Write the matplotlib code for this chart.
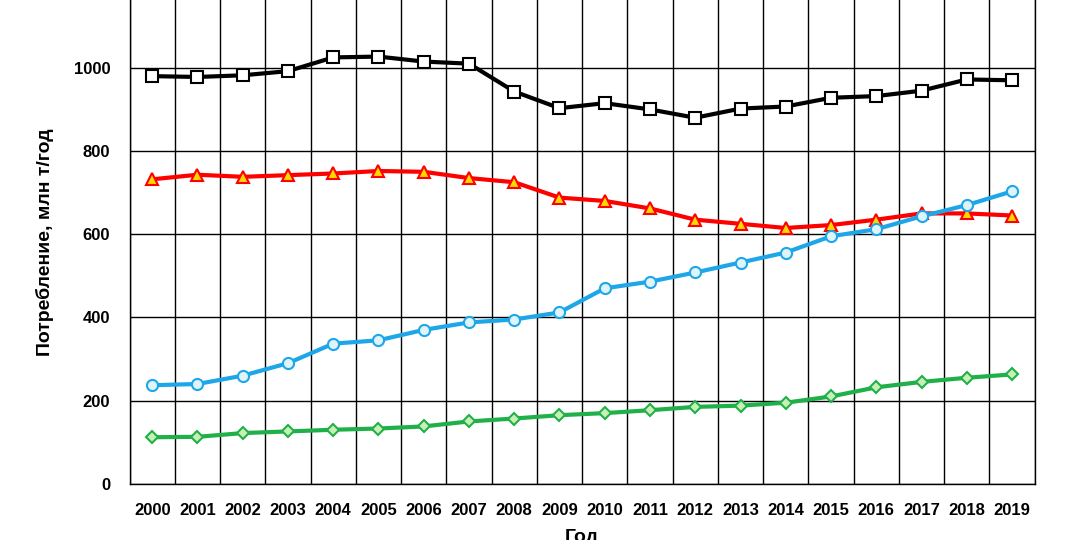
import matplotlib.pyplot as plt

plt.rcParams['font.family'] = ['Liberation Sans', 'DejaVu Sans']

# Data
years = list(range(2000, 2020))
black = [980, 978, 982, 992, 1025, 1027, 1015, 1010, 943, 903, 915, 900, 880, 902, 907, 928, 932, 945, 972, 970]
red = [732, 743, 738, 742, 746, 752, 750, 735, 725, 688, 680, 662, 635, 625, 615, 622, 635, 650, 650, 645]
blue = [237, 240, 260, 290, 337, 345, 370, 388, 395, 412, 470, 486, 508, 532, 556, 595, 612, 643, 670, 703]
green = [112, 113, 122, 126, 130, 133, 138, 150, 157, 165, 170, 177, 185, 188, 195, 210, 232, 245, 255, 263]

fig = plt.figure(figsize=(10.8, 5.4), dpi=100)
ax = fig.add_axes([0.12, 0.104, 0.838, 0.896])

ax.plot(years, black, color='black', lw=3, marker='s', ms=8, mfc='white', mec='black', mew=1.5)
ax.plot(years, red, color='#ff0000', lw=3, marker='^', ms=9, mfc='#ffd700', mec='#ff0000', mew=1.5)
ax.plot(years, blue, color='#1ea7e8', lw=3, marker='o', ms=8, mfc='#dff3fb', mec='#1ea7e8', mew=1.5)
ax.plot(years, green, color='#20b04a', lw=3, marker='D', ms=6, mfc='#c8f0b4', mec='#20b04a', mew=1.5)

ax.set_xlim(1999.5, 2019.5)
ax.set_ylim(0, 1163)
ax.set_yticks(range(0, 1001, 200))
ax.set_xticks(years)
ax.set_xticks([y + 0.5 for y in range(1999, 2020)], minor=True)
ax.grid(which='minor', axis='x', color='black', lw=1)
ax.grid(which='major', axis='y', color='black', lw=1)
ax.tick_params(which='both', length=0)
ax.tick_params(axis='x', pad=14)
ax.tick_params(axis='y', pad=14)
for lab in ax.get_xticklabels() + ax.get_yticklabels():
    lab.set_fontweight('bold')
    lab.set_fontsize(12)
ax.spines['top'].set_visible(False)
for s in ['left', 'right', 'bottom']:
    ax.spines[s].set_linewidth(1)
ax.set_ylabel('Потребление, млн т/год', fontsize=14, fontweight='bold', labelpad=14)
ax.set_xlabel('Год', fontsize=14, fontweight='bold', labelpad=8)

fig.savefig('out.png', dpi=100)
